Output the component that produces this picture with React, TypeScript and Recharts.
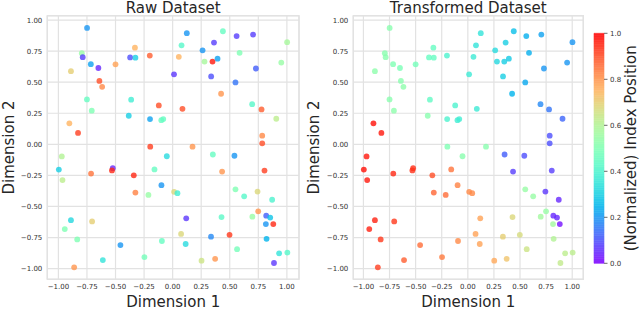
import React from "react";
import {
  ScatterChart,
  Scatter,
  XAxis,
  YAxis,
  CartesianGrid,
  ReferenceArea,
} from "recharts";

// ---- data (same points in both panels; colour differs) ----
const xs = [
  -0.749, -0.795, -0.787, -0.89, -0.716, -0.65, -0.641, -0.617, -0.5, -0.75,
  -0.708, -0.904, -0.828, -0.97, -0.372, -0.326, -0.33, -0.363, -0.384, -0.2,
  -0.198, -0.121, -0.099, -0.082, -0.196, -0.051, 0.012, 0.054, 0.078, 0.124,
  0.086, 0.174, 0.262, 0.279, 0.349, 0.362, 0.393, 0.337, 0.44, 0.424,
  0.352, 0.56, 0.704, 0.586, 0.729, 0.55, 0.541, 0.696, 0.778, 0.784,
  0.784, 0.907, 0.951, 1.002, -0.996, -0.964, -0.714, -0.524, -0.531, -0.34,
  -0.326, -0.159, -0.212, -0.098, 0.013, 0.042, 0.433, 0.804, 0.55, 0.626,
  0.743, 0.871, -0.89, -0.944, -0.705, -0.835, -0.862, -0.611, -0.457, -0.247,
  -0.094, 0.119, 0.074, 0.114, 0.253, 0.372, 0.336, 0.428, 0.498, 0.564,
  0.698, 0.749, 0.819, 0.854, 0.816, 0.881, 0.822, 0.932, 1.004, 0.887,
];
const ys = [
  0.937, 0.733, 0.701, 0.589, 0.645, 0.614, 0.51, 0.463, 0.644, 0.361,
  0.271, 0.169, 0.092, -0.097, 0.699, 0.697, 0.778, 0.359, 0.23, 0.714,
  0.203, 0.313, 0.194, 0.203, -0.019, -0.096, 0.563, 0.704, 0.797, 0.894,
  0.286, -0.019, 0.756, 0.666, 0.666, 0.819, 0.689, 0.546, 0.91, 0.407,
  -0.082, 0.871, 0.883, 0.736, 0.61, 0.498, -0.092, 0.323, 0.281, 0.07,
  0.008, 0.206, 0.658, 0.822, -0.203, -0.288, -0.235, -0.192, -0.21, -0.249,
  -0.388, -0.202, -0.407, -0.329, -0.382, -0.393, -0.219, -0.211, -0.362, -0.418,
  -0.38, -0.446, -0.61, -0.682, -0.62, -0.765, -0.99, -0.931, -0.811, -0.907,
  -0.778, -0.595, -0.721, -0.802, -0.936, -0.921, -0.743, -0.585, -0.728, -0.844,
  -0.582, -0.539, -0.574, -0.589, -0.642, -0.642, -0.76, -0.877, -0.871, -0.955,
];
const rawIndex = [
  0.2, 0.55, 0.08, 0.7, 0.22, 0.05, 0.9, 0.82, 0.78, 0.45,
  0.5, 0.75, 0.92, 0.6, 0.1, 0.3, 0.75, 0.38, 0.3, 0.88,
  0.22, 0.9, 0.45, 0.45, 0.92, 0.33, 0.07, 0.75, 0.42, 0.2,
  0.9, 0.8, 0.2, 0.58, 0.97, 0.08, 0.22, 0.1, 0.45, 0.8,
  0.45, 0.08, 0.08, 0.5, 0.12, 0.15, 0.2, 0.42, 0.88, 0.82,
  0.9, 0.62, 0.55, 0.58, 0.3, 0.62, 0.85, 0.05, 0.95, 0.95,
  0.83, 0.45, 0.55, 0.2, 0.68, 0.38, 0.8, 0.92, 0.5, 0.42,
  0.68, 0.4, 0.32, 0.5, 0.7, 0.5, 0.8, 0.35, 0.2, 0.48,
  0.45, 0.07, 0.68, 0.33, 0.65, 0.8, 0.18, 0.43, 0.93, 0.48,
  0.55, 0.8, 0.12, 0.28, 0.2, 0.95, 0.25, 0.35, 0.42, 0.07,
];
const transformedIndex = [
  0.52, 0.52, 0.52, 0.53, 0.5, 0.49, 0.52, 0.53, 0.48, 0.52,
  0.53, 0.98, 0.97, 0.97, 0.45, 0.45, 0.45, 0.44, 0.52, 0.4,
  0.4, 0.4, 0.38, 0.38, 0.5, 0.52, 0.37, 0.37, 0.35, 0.35,
  0.37, 0.52, 0.33, 0.32, 0.3, 0.3, 0.29, 0.3, 0.27, 0.25,
  0.12, 0.24, 0.22, 0.24, 0.2, 0.23, 0.1, 0.18, 0.15, 0.1,
  0.1, 0.13, 0.2, 0.2, 0.98, 0.97, 0.95, 0.94, 0.94, 0.9,
  0.87, 0.85, 0.86, 0.83, 0.82, 0.82, 0.08, 0.08, 0.55, 0.55,
  0.07, 0.05, 0.96, 0.96, 0.93, 0.93, 0.92, 0.88, 0.86, 0.84,
  0.82, 0.78, 0.78, 0.78, 0.77, 0.72, 0.7, 0.68, 0.67, 0.65,
  0.57, 0.55, 0.05, 0.05, 0.57, 0.02, 0.6, 0.62, 0.62, 0.63,
];
const axisTicks = [-1, -0.75, -0.5, -0.25, 0, 0.25, 0.5, 0.75, 1];
const colorbarTicks = [0, 0.2, 0.4, 0.6, 0.8, 1];
const panelTitles = ["Raw Dataset", "Transformed Dataset"];
const xLabel = "Dimension 1";
const yLabel = "Dimension 2";
const colorbarLabel = "(Normalized) Index Position";

const rawData = xs.map((x, i) => ({ x, y: ys[i], c: rawIndex[i] }));
const transformedData = xs.map((x, i) => ({ x, y: ys[i], c: transformedIndex[i] }));

// colour-bar slices (colormap sampling, not data)
const SLICES = 100;
const colorbarSlices = Array.from({ length: SLICES }, (_, i) => i / SLICES);

// ---- styling ----
const FONT = "'DejaVu Sans', sans-serif";
const X_DOMAIN: [number, number] = [-1.097, 1.106];
const Y_DOMAIN: [number, number] = [-1.086, 1.035];
const GRID = "#e2e2e2";
const TICK_COLOR = "#333333";

function clip(v: number) {
  return Math.max(0, Math.min(1, v));
}
function rainbow(v: number) {
  const r = clip(Math.abs(2 * v - 0.5));
  const g = clip(Math.sin(Math.PI * v));
  const b = clip(Math.cos((Math.PI * v) / 2));
  const h = (n: number) => Math.round(n * 255).toString(16).padStart(2, "0");
  return `#${h(r)}${h(g)}${h(b)}`;
}
function blend(hex: string, a: number) {
  const n = parseInt(hex.slice(1), 16);
  const ch = [(n >> 16) & 255, (n >> 8) & 255, n & 255].map((c) =>
    Math.round(c * a + 255 * (1 - a))
  );
  return `rgb(${ch[0]},${ch[1]},${ch[2]})`;
}
const fmt = (v: number) => {
  const s = Math.abs(v) < 1e-9 ? "0.00" : v.toFixed(2);
  return s.replace("-", "\u2212");
};

const dot = (p: any) => (
  <circle
    cx={p.cx}
    cy={p.cy}
    r={2.9}
    fill={rainbow(p.payload.c)}
    fillOpacity={0.8}
    stroke="none"
  />
);

function Panel({
  data,
  left,
  width,
  yAxisWidth,
  marginRight,
}: {
  data: { x: number; y: number; c: number }[];
  left: number;
  width: number;
  yAxisWidth: number;
  marginRight: number;
}) {
  return (
    <div style={{ position: "absolute", left, top: 0, width, height: 309 }}>
      <ScatterChart
        width={width}
        height={309}
        margin={{ top: 15.7, right: marginRight, bottom: 0, left: 0 }}
      >
        <CartesianGrid stroke={GRID} strokeWidth={1.2} />
        <XAxis
          type="number"
          dataKey="x"
          domain={X_DOMAIN}
          allowDataOverflow
          ticks={axisTicks}
          tickFormatter={fmt}
          height={29.7}
          axisLine={false}
          tickLine={false}
          tickSize={0}
          tickMargin={5}
          interval={0}
          tick={{ fontSize: 7, fill: TICK_COLOR, fontFamily: FONT }}
        />
        <YAxis
          type="number"
          dataKey="y"
          domain={Y_DOMAIN}
          allowDataOverflow
          ticks={axisTicks}
          tickFormatter={fmt}
          width={yAxisWidth}
          axisLine={false}
          tickLine={false}
          tickSize={0}
          tickMargin={5}
          interval={0}
          tick={{ fontSize: 7, fill: TICK_COLOR, fontFamily: FONT }}
        />
        <ReferenceArea
          x1={X_DOMAIN[0]}
          x2={X_DOMAIN[1]}
          y1={Y_DOMAIN[0]}
          y2={Y_DOMAIN[1]}
          fill="none"
          stroke={GRID}
          strokeWidth={1.4}
          ifOverflow="visible"
        />
        <Scatter data={data} shape={dot} isAnimationActive={false} />
      </ScatterChart>
    </div>
  );
}

function Colorbar() {
  return (
    <div style={{ position: "absolute", left: 560, top: 0, width: 80, height: 309 }}>
      <ScatterChart
        width={80}
        height={309}
        margin={{ top: 33.3, right: 6, bottom: 45.7, left: 34 }}
      >
        <XAxis type="number" dataKey="x" domain={[0, 1]} allowDataOverflow hide />
        <YAxis
          type="number"
          dataKey="y"
          orientation="right"
          domain={[0, 1]}
          allowDataOverflow
          ticks={colorbarTicks}
          tickFormatter={(v: number) => v.toFixed(1)}
          width={30}
          axisLine={false}
          tickLine={{ stroke: "#444", strokeWidth: 0.8 }}
          tickSize={3.5}
          tickMargin={2.5}
          interval={0}
          tick={{ fontSize: 7, fill: TICK_COLOR, fontFamily: FONT, textAnchor: "start" }}
        />
        {colorbarSlices.map((s) => {
          const col = blend(rainbow(s + 0.5 / SLICES), 0.88);
          return (
            <ReferenceArea
              key={s}
              x1={0}
              x2={1}
              y1={s}
              y2={Math.min(1, s + 1 / SLICES)}
              fill={col}
              fillOpacity={1}
              stroke={col}
              strokeWidth={0.6}
              ifOverflow="visible"
            />
          );
        })}
        <Scatter data={[{ x: 0.5, y: 0.5 }]} shape={() => <g />} isAnimationActive={false} />
      </ScatterChart>
    </div>
  );
}

export default function App() {
  const leftCx = 173.2;
  const rightCx = 468.3;
  const midY = 147.5;
  return (
    <div
      style={{
        position: "absolute",
        left: 0,
        top: 0,
        width: 640,
        height: 309,
        background: "#ffffff",
        fontFamily: FONT,
      }}
    >
      <Panel data={rawData} left={0} width={320} yAxisWidth={47.3} marginRight={21} />
      <Panel
        data={transformedData}
        left={300}
        width={300}
        yAxisWidth={53.3}
        marginRight={16.7}
      />
      <Colorbar />
      <svg
        width={640}
        height={309}
        style={{ position: "absolute", left: 0, top: 0, pointerEvents: "none" }}
      >
        <g fontFamily={FONT} fill="#262626" fontSize={15}>
          <text x={leftCx} y={12.5} textAnchor="middle">
            {panelTitles[0]}
          </text>
          <text x={rightCx} y={12.5} textAnchor="middle">
            {panelTitles[1]}
          </text>
          <text x={leftCx} y={306.5} textAnchor="middle">
            {xLabel}
          </text>
          <text x={rightCx} y={306.5} textAnchor="middle">
            {xLabel}
          </text>
          <text x={14} y={midY} textAnchor="middle" transform={`rotate(-90 14 ${midY})`}>
            {yLabel}
          </text>
          <text x={319} y={midY} textAnchor="middle" transform={`rotate(-90 319 ${midY})`}>
            {yLabel}
          </text>
          <text x={636} y={148.3} textAnchor="middle" transform={`rotate(-90 636 148.3)`}>
            {colorbarLabel}
          </text>
        </g>
      </svg>
    </div>
  );
}
